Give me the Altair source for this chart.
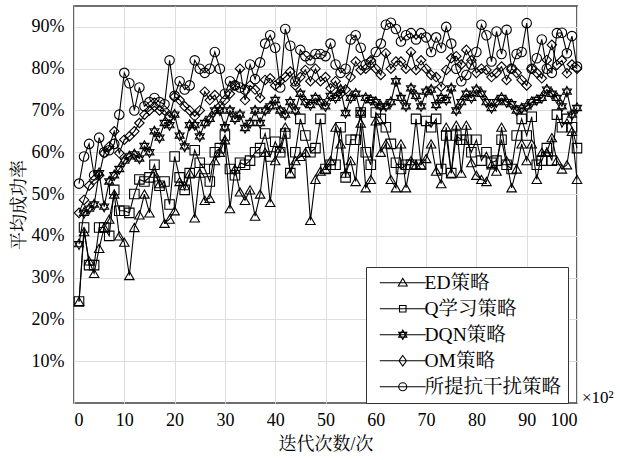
import altair as alt
import pandas as pd

iters = list(range(1, 101))

ed = [0.243, 0.41, 0.34, 0.31, 0.37, 0.42, 0.44, 0.50, 0.40, 0.385,
      0.305, 0.42, 0.45, 0.50, 0.455, 0.55, 0.525, 0.43, 0.44, 0.46,
      0.53, 0.52, 0.55, 0.443, 0.55, 0.485, 0.49, 0.58, 0.60, 0.63,
      0.465, 0.56, 0.505, 0.485, 0.51, 0.447, 0.50, 0.60, 0.48, 0.58,
      0.61, 0.66, 0.55, 0.58, 0.59, 0.60, 0.437, 0.535, 0.555, 0.56,
      0.58, 0.66, 0.62, 0.55, 0.58, 0.53, 0.67, 0.515, 0.535, 0.675,
      0.60, 0.62, 0.535, 0.515, 0.62, 0.515, 0.58, 0.57, 0.57, 0.585,
      0.62, 0.555, 0.525, 0.66, 0.55, 0.665, 0.55, 0.665, 0.575, 0.545,
      0.535, 0.53, 0.57, 0.555, 0.66, 0.58, 0.515, 0.56, 0.62, 0.58,
      0.62, 0.535, 0.60, 0.60, 0.635, 0.58, 0.56, 0.57, 0.65, 0.535]

ql = [0.243, 0.42, 0.33, 0.33, 0.42, 0.42, 0.40, 0.51, 0.46, 0.46,
      0.455, 0.50, 0.535, 0.53, 0.54, 0.57, 0.52, 0.53, 0.475, 0.59,
      0.54, 0.51, 0.55, 0.605, 0.575, 0.56, 0.53, 0.60, 0.61, 0.64,
      0.56, 0.545, 0.575, 0.57, 0.58, 0.60, 0.61, 0.645, 0.59, 0.625,
      0.60, 0.645, 0.55, 0.60, 0.68, 0.64, 0.60, 0.61, 0.68, 0.56,
      0.57, 0.57, 0.66, 0.54, 0.63, 0.63, 0.695, 0.60, 0.57, 0.695,
      0.68, 0.66, 0.62, 0.575, 0.56, 0.57, 0.57, 0.68, 0.57, 0.675,
      0.66, 0.68, 0.56, 0.64, 0.55, 0.64, 0.63, 0.63, 0.60, 0.63,
      0.58, 0.60, 0.575, 0.58, 0.63, 0.57, 0.56, 0.64, 0.68, 0.64,
      0.685, 0.57, 0.58, 0.61, 0.58, 0.69, 0.66, 0.68, 0.66, 0.61]

dqn = [0.38, 0.455, 0.465, 0.475, 0.55, 0.47, 0.53, 0.545, 0.56, 0.58,
       0.59, 0.595, 0.585, 0.615, 0.60, 0.65, 0.635, 0.67, 0.665, 0.69,
       0.64, 0.614, 0.665, 0.665, 0.638, 0.67, 0.68, 0.70, 0.70, 0.66,
       0.70, 0.68, 0.69, 0.658, 0.67, 0.70, 0.67, 0.70, 0.71, 0.725,
       0.70, 0.69, 0.72, 0.70, 0.74, 0.72, 0.713, 0.73, 0.72, 0.71,
       0.735, 0.73, 0.75, 0.694, 0.73, 0.74, 0.694, 0.73, 0.725, 0.72,
       0.71, 0.71, 0.72, 0.77, 0.73, 0.71, 0.753, 0.735, 0.71, 0.745,
       0.75, 0.713, 0.73, 0.725, 0.753, 0.70, 0.72, 0.74, 0.73, 0.75,
       0.74, 0.72, 0.706, 0.72, 0.73, 0.72, 0.715, 0.70, 0.705, 0.71,
       0.72, 0.725, 0.73, 0.75, 0.74, 0.73, 0.71, 0.745, 0.69, 0.706]

om = [0.455, 0.486, 0.52, 0.534, 0.545, 0.598, 0.614, 0.65, 0.598, 0.63,
      0.638, 0.65, 0.67, 0.69, 0.70, 0.71, 0.70, 0.70, 0.685, 0.733,
      0.725, 0.71, 0.70, 0.686, 0.70, 0.745, 0.725, 0.737, 0.71, 0.725,
      0.74, 0.76, 0.80, 0.725, 0.76, 0.75, 0.73, 0.773, 0.777, 0.76,
      0.77, 0.78, 0.793, 0.76, 0.78, 0.797, 0.77, 0.80, 0.77, 0.78,
      0.753, 0.77, 0.74, 0.75, 0.78, 0.817, 0.797, 0.80, 0.82, 0.80,
      0.785, 0.837, 0.80, 0.817, 0.817, 0.80, 0.84, 0.797, 0.82, 0.80,
      0.785, 0.78, 0.757, 0.797, 0.825, 0.83, 0.81, 0.845, 0.82, 0.79,
      0.80, 0.797, 0.78, 0.79, 0.805, 0.773, 0.80, 0.79, 0.773, 0.76,
      0.80, 0.79, 0.777, 0.821, 0.857, 0.809, 0.82, 0.789, 0.81, 0.80]

prop = [0.525, 0.59, 0.62, 0.545, 0.635, 0.60, 0.605, 0.62, 0.69, 0.79,
        0.765, 0.70, 0.755, 0.71, 0.72, 0.73, 0.72, 0.715, 0.82, 0.735,
        0.77, 0.75, 0.76, 0.82, 0.80, 0.79, 0.80, 0.84, 0.80, 0.74,
        0.77, 0.76, 0.755, 0.75, 0.81, 0.775, 0.815, 0.86, 0.88, 0.85,
        0.755, 0.895, 0.855, 0.77, 0.845, 0.83, 0.82, 0.835, 0.835, 0.83,
        0.86, 0.81, 0.79, 0.80, 0.87, 0.88, 0.85, 0.81, 0.815, 0.84,
        0.86, 0.905, 0.91, 0.895, 0.865, 0.88, 0.885, 0.87, 0.885, 0.875,
        0.84, 0.875, 0.85, 0.90, 0.86, 0.80, 0.77, 0.785, 0.81, 0.84,
        0.905, 0.88, 0.817, 0.889, 0.835, 0.893, 0.80, 0.835, 0.84, 0.909,
        0.80, 0.825, 0.87, 0.80, 0.79, 0.885, 0.886, 0.837, 0.878, 0.805]

names = ["ED策略", "Q学习策略", "DQN策略", "OM策略", "所提抗干扰策略"]
x_ticks = [0, 10, 20, 30, 40, 50, 60, 70, 80, 90, 100]
y_ticks = [0.1, 0.2, 0.3, 0.4, 0.5, 0.6, 0.7, 0.8, 0.9]

rows = []
for name, vals in zip(names, [ed, ql, dqn, om, prop]):
    for i, v in zip(iters, vals):
        rows.append({"iter": i, "rate": v, "series": name})
df = pd.DataFrame(rows)

LATIN = "Liberation Serif, Times New Roman, DejaVu Serif, serif"
FONT = "Liberation Serif, Times New Roman, Noto Serif CJK SC, Noto Sans CJK SC, serif"

star = "M0,-1.1L0.95,0.55L-0.95,0.55Z M0,1.1L0.95,-0.55L-0.95,-0.55Z"
plot_shapes = ["triangle-up", "square", star, "diamond", "circle"]

line_seg = "M-4.6,0H4.6 "
legend_shapes = [
    line_seg + "M0,-0.9L0.9,0.65L-0.9,0.65Z",
    line_seg + "M-0.65,-0.65H0.65V0.65H-0.65Z",
    line_seg + "M0,-0.95L0.82,0.48L-0.82,0.48Z M0,0.95L0.82,-0.48L-0.82,-0.48Z",
    line_seg + "M0,-1.05L0.75,0L0,1.05L-0.75,0Z",
    line_seg + "M0.8,0A0.8,0.8,0,1,1,-0.8,0A0.8,0.8,0,1,1,0.8,0Z",
]

xs = alt.Scale(domain=[0, 100], nice=False)
ys = alt.Scale(domain=[0, 0.95], nice=False, zero=False)

x_enc = alt.X("iter:Q", scale=xs, axis=alt.Axis(
    values=x_ticks, format="d", title="迭代次数/次", grid=True,
    gridColor="#dddddd", ticks=False, domain=False, labelFont=LATIN,
    labelFontSize=18, labelColor="black", labelPadding=8,
    titleFont=FONT, titleFontSize=18, titleFontWeight="normal",
    titleColor="black", titlePadding=6))
y_enc = alt.Y("rate:Q", scale=ys, axis=alt.Axis(
    values=y_ticks, format=".0%", title="平均成功率", grid=True,
    gridColor="#dddddd", ticks=False, domain=False, labelFont=LATIN,
    labelFontSize=18, labelColor="black", labelPadding=10,
    titleFont=FONT, titleFontSize=18, titleFontWeight="normal",
    titleColor="black", titlePadding=3))

lines = alt.Chart(df).mark_line(color="black", strokeWidth=1.1).encode(
    x=x_enc, y=y_enc, detail="series:N")

points = alt.Chart(df).mark_point(
    filled=False, color="black", strokeWidth=1.1, size=90, opacity=1
).encode(
    x=x_enc, y=y_enc,
    shape=alt.Shape("series:N", scale=alt.Scale(domain=names, range=plot_shapes),
                    legend=None))

legend_layer = alt.Chart(df).transform_filter("datum.rate > 5").mark_point(
    filled=False, color="black", strokeWidth=1.1, size=100, opacity=1
).encode(
    x=x_enc, y=y_enc,
    shape=alt.Shape("series:N",
                    scale=alt.Scale(domain=names, range=legend_shapes),
                    legend=alt.Legend(
                        title=None, orient="none", legendX=292, legendY=261,
                        fillColor="white", strokeColor="#333333",
                        padding=6, symbolSize=100, symbolStrokeColor="black",
                        symbolFillColor="transparent", symbolStrokeWidth=1.1,
                        symbolOffset=21, labelOffset=12, labelFont=FONT,
                        labelFontSize=19.5, labelColor="black", rowPadding=5,
                        labelLimit=300)))

exp_df = pd.DataFrame({"t": ["×10²"]})
exp_text = alt.Chart(exp_df).mark_text(
    align="left", baseline="middle", dx=5, dy=-5, font=LATIN, fontSize=17,
    color="black").encode(x=alt.datum(100), y=alt.datum(0), text="t:N")

chart = alt.layer(lines, points, legend_layer, exp_text).resolve_scale(
    shape="independent"
).properties(
    width=503, height=397,
    autosize=alt.AutoSizeParams(type="none"),
    padding={"left": 74, "top": 6, "right": 43, "bottom": 57},
).configure_view(stroke="#404040", strokeWidth=1.6)

chart.save("out.html", embed_options={"renderer": "svg", "actions": False})
